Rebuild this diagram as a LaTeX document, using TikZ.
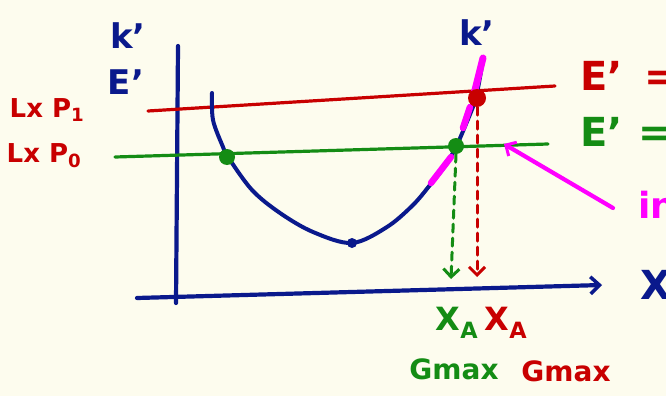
\documentclass[tikz,border=0pt]{standalone}
\usepackage{fontspec}
\setmainfont{DejaVu Sans}
\usetikzlibrary{arrows.meta}
\definecolor{bg}{RGB}{253,252,238}
\definecolor{navy}{RGB}{10,25,140}
\definecolor{dred}{RGB}{200,0,0}
\definecolor{dgreen}{RGB}{20,140,20}
\definecolor{mag}{RGB}{255,0,255}
\begin{document}
\begin{tikzpicture}[x=1pt,y=-1pt, line cap=round, line join=round,
  lbl/.style={inner sep=0pt, font=\fontsize{#1}{#1}\selectfont\bfseries},
  lbl/.default=30,
  dotn/.style={circle, inner sep=0pt, minimum size=#1},
  barb/.style={-{Straight Barb[length=8pt,width=16pt,line width=3pt]}},
  dashline/.style={line width=3pt, dash pattern=on 8pt off 6pt}]
\fill[bg] (0,0) rectangle (666,396);
\useasboundingbox (0,0) rectangle (666,396);

% axes
\coordinate (ytop) at (178,46);
\coordinate (ybot) at (176,303);
\coordinate (xl) at (137,298);
\coordinate (xr) at (602,285);
\draw[navy, line width=4.2pt] (ytop) -- (ybot);
\draw[navy, line width=4.2pt, -{Straight Barb[length=9pt,width=17pt,line width=3.5pt]}] (xl) -- (xr);

% horizontal levels
\coordinate (rl) at (148,111);
\coordinate (rr) at (555,86);
\coordinate (gl) at (115,157);
\coordinate (gr) at (548,144);
\draw[dred, line width=3.2pt] (rl) -- (rr);
\draw[dgreen, line width=3.2pt] (gl) -- (gr);

% curve
\draw[navy, line width=4pt] plot[smooth, tension=0.55] coordinates {
 (212,93) (213,120) (223,147) (228,157) (252,190) (280,213) (313,232)
 (352,243) (387,227) (413,205) (430,185) (445,166) (456,147) (466,124)
 (474,104) (478,88) (483,60)};

% magenta highlights
\draw[mag, line width=7pt] (483,58) -- (474,94);
\draw[mag, line width=6.5pt] (470,107) -- (463,128);
\draw[mag, line width=6.5pt] (451,157) -- (431,183);

% dots
\node[dotn=16pt, fill=dgreen] (g1) at (227,157) {};
\node[dotn=16pt, fill=dgreen] (g2) at (456,146) {};
\node[dotn=18pt, fill=dred] (r1) at (477,98) {};
\node[dotn=10pt, fill=navy] (m) at (352,243) {};

% dashed projections
\coordinate (ga) at (451,279);
\coordinate (ra) at (477,277);
\draw[dgreen, dashline, barb] (g2.south) -- (ga);
\draw[dred, dashline, barb] (r1.south) -- (ra);

% magenta arrow
\coordinate (ms) at (613,208);
\coordinate (me) at (504,144);
\draw[mag, line width=4.2pt, barb] (ms) -- (me);

% labels
\node[lbl=34, text=navy] (kl) at (128,36) {k’};
\node[lbl=34, text=navy] (el) at (126,82) {E’};
\node[lbl=34, text=navy] (kr) at (477,33) {k’};
\node[lbl=40, text=dred, anchor=west] (er) at (580,76) {E’\hspace{22pt}=};
\node[lbl=40, text=dgreen, anchor=west] (eg) at (580,132) {E’\hspace{16pt}=};
\node[lbl=36, text=mag, anchor=west] (in) at (638,205) {in};
\node[lbl=40, text=navy, anchor=west] (xx) at (640,285) {X};
\node[lbl=26, text=dred] (p1) at (47,110) {Lx P\textsubscript{1}};
\node[lbl=26, text=dred] (p0) at (44,156) {Lx P\textsubscript{0}};
\node[lbl=32, text=dgreen] (xa1) at (457,323) {X\textsubscript{A}};
\node[lbl=32, text=dred] (xa2) at (506,323) {X\textsubscript{A}};
\node[lbl=28, text=dgreen] (gm1) at (454,369) {Gmax};
\node[lbl=28, text=dred] (gm2) at (566,371) {Gmax};
\end{tikzpicture}
\end{document}
